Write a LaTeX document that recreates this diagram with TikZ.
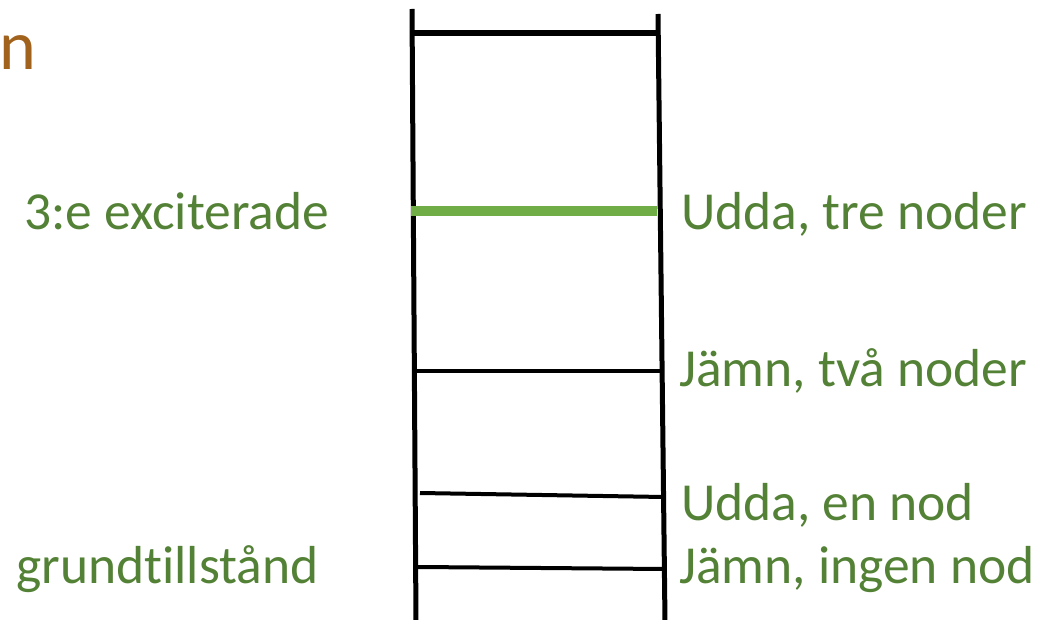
\documentclass[tikz,border=0pt]{standalone}
\usepackage{fontspec}
\setmainfont{Carlito}[Ligatures=NoCommon]
\definecolor{txtgreen}{HTML}{538135}
\definecolor{bargreen}{HTML}{70AD47}
\definecolor{titleorange}{HTML}{A0621C}
\tikzset{
  rail/.style={line width=5pt, black},
  rung/.style={line width=4pt, black},
  lbl/.style={anchor=base west, inner sep=0pt, text=txtgreen, font=\fontsize{53.5}{64}\selectfont},
}
\begin{document}
\begin{tikzpicture}[x=1pt,y=-1pt]
\useasboundingbox (0,0) rectangle (1042,620);
% rails
\coordinate (LT) at (412,9);
\coordinate (LB) at (416,622);
\coordinate (RT) at (658,14);
\coordinate (RB) at (665,622);
\draw[rail] (LT) -- (LB);
\draw[rail] (RT) -- (RB);
% rungs
\draw[rung, line width=5.5pt] (412,33) -- (658,33);
\draw[line width=10pt, bargreen] (411,211) -- (657,211);
\draw[rung] (414,371) -- (663,371);
\draw[rung] (420,493) -- (664,497);
\draw[rung] (418,567) -- (664,569);
% labels
\node[anchor=base west, inner sep=0pt, text=titleorange, font=\fontsize{70}{84}\selectfont] (title) at (-1,70) {n};
\node[lbl] (exc) at (24,230) {3:e exciterade};
\node[lbl] (grund) at (16,583) {grundtillstånd};
\node[lbl] (u3) at (681,230) {Udda, tre noder};
\node[lbl] (j2) at (679,387) {Jämn, två noder};
\node[lbl] (u1) at (681,520) {Udda, en nod};
\node[lbl] (j0) at (679,583) {Jämn, ingen nod};
\end{tikzpicture}
\end{document}
